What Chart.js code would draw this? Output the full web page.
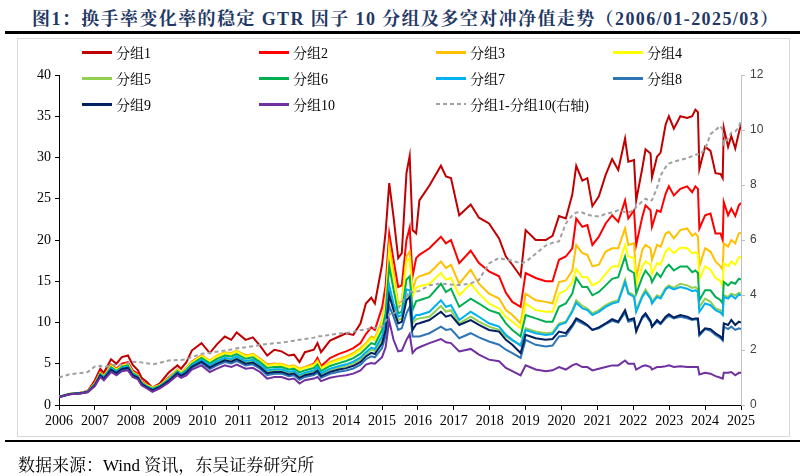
<!DOCTYPE html>
<html lang="zh-CN">
<head>
<meta charset="UTF-8"/>
<title>图1：换手率变化率的稳定 GTR 因子 10 分组及多空对冲净值走势</title>
<script src="https://cdn.jsdelivr.net/npm/chart.js@4"></script>
<style>
  * { box-sizing: border-box; margin: 0; padding: 0; }
  html, body { width: 805px; height: 476px; background: #fff; overflow: hidden; }
  body { position: relative; font-family: 'Liberation Serif', 'Noto Serif CJK SC', 'Noto Sans CJK SC', serif; color: #000; }
  .title { position: absolute; left: 32px; top: 4px; font-size: 18px; font-weight: 700; color: #1f3864; letter-spacing: 1.4px; white-space: nowrap; }
  .rule { position: absolute; left: 5px; right: 5px; background: #000; }
  .rule.top { top: 31px; height: 3px; }
  .rule.bottom { top: 440px; height: 2px; }
  .frame { position: absolute; left: 17px; top: 38px; width: 773px; height: 399px; border: 1px solid #d9d9d9; }
  canvas { position: absolute; left: 0; top: 0; }
  .legend { position: absolute; left: 82px; top: 39px; display: grid; grid-template-columns: repeat(4, 177px); grid-auto-rows: 26px; }
  .legend .item { display: flex; align-items: center; font-size: 14px; white-space: nowrap; }
  .legend .swatch { width: 30px; height: 3px; margin-right: 4px; }
  .source { position: absolute; left: 18px; top: 451px; font-size: 17px; white-space: nowrap; }
</style>
</head>
<body>

<div class="title">图1：换手率变化率的稳定 GTR 因子 10 分组及多空对冲净值走势（2006/01-2025/03）</div>
<div class="rule top"></div>
<div class="frame"></div>
<canvas id="chart" width="805" height="476"></canvas>
<div class="legend" id="legend"></div>
<div class="rule bottom"></div>
<div class="source">数据来源：Wind 资讯，东吴证券研究所</div>

<script>
// 时间（年份小数），与各组净值一一对应
const dates = [
  2006.0, 2006.3, 2006.6, 2006.8, 2007.0, 2007.15, 2007.25, 2007.45, 2007.6, 2007.75,
  2007.92, 2008.05, 2008.2, 2008.3, 2008.45, 2008.6, 2008.8, 2009.05, 2009.3, 2009.4,
  2009.55, 2009.7, 2009.97, 2010.2, 2010.4, 2010.62, 2010.8, 2010.95, 2011.2, 2011.4,
  2011.6, 2011.8, 2012.0, 2012.2, 2012.4, 2012.55, 2012.7, 2012.85, 2013.1, 2013.2,
  2013.3, 2013.55, 2013.8, 2014.0, 2014.2, 2014.4, 2014.55, 2014.7, 2014.8, 2015.0,
  2015.1, 2015.2, 2015.32, 2015.45, 2015.55, 2015.68, 2015.77, 2015.85, 2015.95, 2016.04,
  2016.32, 2016.64, 2016.78, 2016.92, 2017.15, 2017.47, 2017.7, 2017.98, 2018.26, 2018.45,
  2018.63, 2018.86, 2019.0, 2019.28, 2019.56, 2019.75, 2019.93, 2020.12, 2020.3, 2020.41,
  2020.58, 2020.72, 2020.86, 2021.04, 2021.23, 2021.41, 2021.58, 2021.77, 2021.86, 2022.02,
  2022.08, 2022.25, 2022.34, 2022.48, 2022.52, 2022.66, 2022.76, 2022.9, 2022.99, 2023.13,
  2023.31, 2023.5, 2023.64, 2023.73, 2023.8, 2023.84, 2024.0, 2024.15, 2024.29, 2024.43,
  2024.49, 2024.52, 2024.64, 2024.73, 2024.84, 2024.94, 2025.0
];

const group1 = [
  1.0, 1.3, 1.5, 1.65, 3.0, 4.4, 3.9, 5.55, 5.0, 5.8,
  6.0, 4.9, 4.2, 3.3, 2.8, 2.1, 2.6, 3.9, 4.8, 4.4,
  5.2, 6.6, 7.5, 6.3, 7.35, 8.3, 7.9, 8.8, 7.9, 8.2,
  7.2, 6.0, 6.7, 6.5, 6.0, 6.1, 5.2, 6.4, 6.7, 7.5,
  6.4, 7.8, 8.3, 8.7, 8.5, 9.9, 12.3, 13.0, 12.3, 17.0,
  21.0, 26.9, 22.8, 17.8, 18.4, 28.1, 30.2, 21.2, 20.8, 24.8,
  26.6, 29.0, 27.7, 27.5, 23.0, 24.3, 22.7, 22.0, 20.2, 18.0,
  17.0, 15.6, 21.2, 20.0, 20.0, 20.5, 22.9, 22.6, 25.5, 29.0,
  27.2, 27.5, 24.1, 25.3, 27.9, 29.8, 28.5, 32.3, 29.5, 29.7,
  24.8, 28.7, 31.0, 30.5, 27.6, 30.1, 30.6, 34.0, 35.0, 33.5,
  35.0, 34.8, 35.0, 35.8, 35.5, 28.6, 31.3, 30.8, 28.1, 28.0,
  27.5, 33.6, 31.3, 32.6, 31.1, 33.0, 34.0
];

const group2 = [
  1.0, 1.35, 1.5, 1.7, 2.8, 4.1, 3.5, 4.9, 4.4, 5.0,
  5.2, 4.2, 3.8, 2.9, 2.5, 2.1, 2.45, 3.3, 4.3, 3.9,
  4.5, 5.25, 6.0, 5.3, 5.9, 6.3, 6.2, 6.5, 6.0, 6.1,
  5.6, 4.9, 5.0, 4.9, 4.6, 4.7, 4.3, 4.6, 5.0, 5.7,
  4.7, 5.7, 6.2, 6.5, 6.9, 7.5, 8.6, 9.4, 9.1, 11.8,
  14.5, 20.8, 17.6, 14.3, 14.5, 20.0, 21.5, 15.6, 17.8, 18.2,
  19.0, 20.4, 19.6, 20.0, 17.2, 18.7, 17.2, 16.2, 15.6, 13.6,
  12.5, 11.9, 16.0, 15.4, 15.0, 15.0, 17.6, 18.0, 19.0, 22.6,
  21.6, 21.8, 19.4, 20.4, 22.0, 23.0, 22.2, 24.8, 22.6, 23.6,
  19.4, 22.8, 24.2, 23.6, 21.6, 23.6, 23.4, 25.6, 26.5, 25.4,
  26.2, 26.5, 25.8, 26.5, 26.2, 21.4, 23.0, 23.2, 20.8, 20.8,
  20.0, 24.6, 23.0, 23.8, 22.9, 24.2, 24.5
];

const group3 = [
  1.0, 1.35, 1.45, 1.65, 2.6, 3.9, 3.5, 4.8, 4.3, 4.8,
  5.0, 4.0, 3.6, 2.8, 2.4, 2.1, 2.4, 3.2, 4.3, 3.9,
  4.5, 5.2, 6.0, 5.4, 6.0, 6.4, 6.3, 6.6, 6.0, 6.2,
  5.6, 4.9, 5.0, 5.0, 4.7, 4.8, 4.4, 4.6, 4.9, 5.4,
  4.5, 5.2, 5.6, 5.9, 6.3, 6.9, 7.5, 8.3, 8.1, 10.2,
  12.5, 19.4, 16.0, 12.3, 12.6, 18.0, 18.6, 14.0, 15.3, 15.6,
  16.0, 17.4, 16.6, 17.0, 14.7, 16.4, 14.7, 13.5, 12.9, 11.5,
  10.9, 9.9, 13.5, 12.7, 12.5, 12.3, 14.9, 15.1, 16.3, 19.4,
  18.4, 18.2, 16.8, 17.0, 18.6, 19.0, 19.0, 21.4, 19.4, 19.6,
  15.4, 18.8, 19.4, 19.0, 17.6, 19.4, 19.2, 20.8, 21.0, 20.2,
  21.2, 21.4, 20.5, 20.8, 20.4, 16.8, 19.0, 18.6, 17.4, 16.8,
  16.4, 19.6, 19.2, 20.0, 19.6, 20.8, 20.9
];

const group4 = [
  1.0, 1.35, 1.45, 1.64, 2.58, 3.86, 3.46, 4.74, 4.24, 4.74,
  4.94, 3.95, 3.56, 2.77, 2.37, 2.06, 2.37, 3.16, 4.24, 3.85,
  4.43, 5.13, 5.9, 5.29, 5.87, 6.27, 6.16, 6.46, 5.87, 6.06,
  5.47, 4.76, 4.87, 4.87, 4.57, 4.67, 4.26, 4.47, 4.76, 5.24,
  4.37, 5.05, 5.43, 5.72, 6.1, 6.68, 7.29, 8.04, 7.85, 9.85,
  12.06, 18.5, 15.2, 11.9, 12.1, 17.4, 17.8, 13.2, 14.2, 14.4,
  14.7, 16.0, 15.2, 15.4, 13.3, 14.7, 13.5, 12.3, 11.7, 10.7,
  10.1, 9.3, 12.3, 11.5, 11.3, 11.3, 13.5, 13.9, 14.9, 16.5,
  15.5, 15.5, 14.5, 14.9, 15.9, 16.8, 16.8, 19.4, 18.0, 17.8,
  14.5, 16.8, 17.4, 17.0, 15.9, 17.2, 17.0, 18.6, 19.0, 18.4,
  19.1, 19.0, 18.4, 18.5, 18.3, 15.2, 16.8, 16.4, 15.4, 15.0,
  14.4, 17.2, 16.8, 17.4, 17.0, 17.9, 17.9
];

const group5 = [
  0.98, 1.33, 1.43, 1.6, 2.45, 3.65, 3.25, 4.4, 3.95, 4.45,
  4.6, 3.7, 3.35, 2.6, 2.2, 1.85, 2.2, 2.95, 3.95, 3.6,
  4.05, 4.75, 5.4, 4.7, 5.2, 5.6, 5.45, 5.75, 5.2, 5.35,
  4.8, 4.05, 4.2, 4.2, 3.9, 4.0, 3.5, 3.8, 4.05, 4.4,
  3.7, 4.25, 4.55, 4.75, 5.05, 5.55, 6.2, 6.7, 6.55, 8.0,
  9.75, 13.8, 11.9, 10.3, 10.5, 13.2, 13.3, 9.9, 10.4, 10.5,
  10.7, 12.0, 11.3, 11.5, 9.9, 10.7, 10.1, 9.5, 9.1, 8.3,
  7.8, 7.3, 9.3, 8.9, 8.7, 8.8, 9.9, 10.1, 11.5, 12.7,
  12.0, 11.7, 11.1, 11.5, 12.1, 12.5, 12.7, 15.2, 13.7, 13.3,
  11.5, 13.3, 14.0, 13.1, 12.5, 13.3, 13.1, 14.2, 14.5, 14.2,
  14.7, 14.5, 14.2, 14.3, 14.0, 11.9, 12.9, 12.5, 11.7, 11.5,
  11.1, 13.3, 13.1, 13.5, 13.3, 13.6, 13.5
];

const group6 = [
  1.0, 1.34, 1.44, 1.62, 2.52, 3.78, 3.38, 4.6, 4.12, 4.62,
  4.8, 3.85, 3.48, 2.7, 2.3, 1.98, 2.3, 3.08, 4.12, 3.75,
  4.28, 4.98, 5.7, 5.05, 5.6, 6.0, 5.88, 6.18, 5.6, 5.78,
  5.2, 4.48, 4.6, 4.6, 4.3, 4.4, 3.95, 4.2, 4.48, 4.9,
  4.1, 4.73, 5.08, 5.33, 5.68, 6.23, 6.85, 7.5, 7.33, 9.1,
  11.13, 16.9, 14.0, 11.1, 11.3, 15.2, 15.6, 11.5, 12.6, 12.7,
  13.1, 14.7, 13.7, 14.1, 11.9, 12.9, 12.3, 11.5, 11.1, 9.9,
  9.1, 8.3, 10.9, 10.5, 10.1, 10.1, 11.9, 12.3, 13.5, 15.4,
  14.3, 14.3, 13.3, 13.7, 14.5, 15.3, 15.5, 18.0, 16.4, 16.0,
  13.5, 15.5, 16.3, 15.5, 14.9, 16.0, 15.5, 16.6, 17.0, 16.3,
  16.8, 16.8, 16.1, 16.3, 16.0, 12.7, 13.9, 13.9, 13.1, 12.7,
  12.3, 14.9, 14.5, 14.9, 14.7, 15.3, 15.2
];

const group7 = [
  0.98, 1.33, 1.43, 1.61, 2.47, 3.69, 3.29, 4.46, 4.0, 4.5,
  4.66, 3.75, 3.39, 2.63, 2.23, 1.89, 2.23, 2.99, 4.0, 3.65,
  4.12, 4.82, 5.5, 4.81, 5.33, 5.73, 5.59, 5.89, 5.33, 5.49,
  4.93, 4.19, 4.33, 4.33, 4.03, 4.13, 3.64, 3.93, 4.19, 4.56,
  3.83, 4.4, 4.72, 4.93, 5.25, 5.77, 6.41, 6.96, 6.8, 8.35,
  10.2, 14.5, 12.3, 10.7, 10.9, 14.0, 13.9, 10.3, 10.9, 10.9,
  11.3, 12.7, 11.9, 12.1, 10.3, 11.3, 10.7, 9.9, 9.5, 8.5,
  7.9, 7.2, 9.1, 8.7, 8.5, 8.6, 9.7, 10.0, 11.3, 12.4,
  11.7, 11.5, 10.9, 11.3, 11.9, 12.3, 12.5, 14.9, 13.5, 13.1,
  11.3, 13.1, 13.7, 12.9, 12.3, 13.1, 12.9, 14.0, 14.3, 14.0,
  14.3, 14.1, 13.8, 13.9, 13.7, 11.3, 12.3, 12.1, 11.5, 11.2,
  10.9, 13.1, 12.9, 13.3, 12.9, 13.4, 13.3
];

const group8 = [
  0.97, 1.31, 1.41, 1.58, 2.38, 3.53, 3.13, 4.2, 3.78, 4.28,
  4.4, 3.55, 3.23, 2.5, 2.1, 1.73, 2.1, 2.83, 3.78, 3.45,
  3.83, 4.53, 5.1, 4.35, 4.8, 5.2, 5.03, 5.33, 4.8, 4.93,
  4.4, 3.63, 3.8, 3.8, 3.5, 3.6, 3.05, 3.4, 3.63, 3.9,
  3.3, 3.78, 4.03, 4.18, 4.43, 4.88, 5.55, 5.9, 5.78, 6.9,
  8.38, 12.0, 10.7, 9.1, 9.3, 11.1, 11.9, 8.3, 8.3, 8.3,
  8.7, 9.5, 9.1, 9.2, 8.1, 8.7, 8.2, 7.7, 7.3, 6.7,
  6.3, 5.7, 7.9, 7.3, 7.1, 7.2, 8.3, 8.4, 9.5, 10.3,
  9.9, 9.6, 9.1, 9.3, 9.8, 10.2, 10.0, 11.2, 10.1, 10.3,
  9.1, 10.5, 10.9, 10.0, 9.5, 10.1, 9.8, 10.5, 10.8, 10.5,
  10.7, 10.5, 10.3, 10.4, 10.3, 8.4, 9.2, 9.0, 8.5, 8.1,
  7.8, 9.5, 9.2, 9.5, 9.1, 9.3, 9.2
];

const group9 = [
  0.97, 1.32, 1.42, 1.59, 2.41, 3.59, 3.19, 4.3, 3.87, 4.37,
  4.5, 3.63, 3.29, 2.55, 2.15, 1.79, 2.15, 2.89, 3.87, 3.53,
  3.94, 4.64, 5.26, 4.53, 5.01, 5.41, 5.25, 5.55, 5.01, 5.15,
  4.61, 3.85, 4.01, 4.01, 3.71, 3.81, 3.28, 3.61, 3.85, 4.16,
  3.51, 4.02, 4.3, 4.47, 4.75, 5.23, 5.89, 6.32, 6.18, 7.47,
  9.09, 13.3, 11.5, 9.9, 10.1, 12.7, 13.1, 9.1, 9.8, 9.9,
  10.3, 11.3, 10.7, 10.9, 9.7, 10.3, 9.7, 9.1, 8.9, 7.9,
  7.3, 6.3, 8.5, 8.1, 7.9, 8.0, 8.9, 8.7, 9.7, 10.5,
  10.1, 9.7, 9.1, 9.4, 9.9, 10.4, 10.1, 11.5, 10.3, 10.5,
  8.9, 10.7, 11.1, 10.2, 9.5, 10.3, 9.9, 10.7, 11.0, 10.6,
  10.9, 10.7, 10.4, 10.5, 10.5, 8.6, 9.3, 9.2, 8.7, 8.3,
  8.0, 9.9, 9.7, 10.3, 9.7, 10.1, 10.0
];

const group10 = [
  0.95, 1.3, 1.4, 1.55, 2.3, 3.4, 3.0, 4.0, 3.6, 4.1,
  4.2, 3.4, 3.1, 2.4, 2.0, 1.6, 2.0, 2.7, 3.6, 3.3,
  3.6, 4.3, 4.8, 4.0, 4.4, 4.8, 4.6, 4.9, 4.4, 4.5,
  4.0, 3.2, 3.4, 3.4, 3.1, 3.2, 2.6, 3.0, 3.2, 3.4,
  2.9, 3.3, 3.5, 3.6, 3.8, 4.2, 4.9, 5.1, 5.0, 5.8,
  7.0, 10.2, 7.9, 6.5, 6.6, 7.9, 8.6, 6.3, 6.8, 7.0,
  7.5, 8.0, 7.6, 7.5, 6.5, 6.8, 6.1, 5.5, 5.3, 4.5,
  4.1, 3.6, 4.8, 4.3, 4.1, 4.2, 4.6, 4.3, 4.8, 5.0,
  4.6, 4.6, 4.2, 4.4, 4.6, 4.8, 4.8, 5.4, 5.0, 5.0,
  4.3, 4.7, 4.8, 4.6, 4.3, 4.6, 4.6, 4.7, 4.8, 4.6,
  4.7, 4.6, 4.6, 4.6, 4.6, 3.7, 3.9, 3.8, 3.5, 3.3,
  3.2, 3.9, 3.9, 4.0, 3.6, 3.9, 3.9
];

// 分组1-分组10 多空对冲净值（右轴）
const longShort = [
  1.0, 1.12, 1.16, 1.2, 1.4, 1.43, 1.37, 1.45, 1.46, 1.46,
  1.52, 1.57, 1.56, 1.55, 1.52, 1.48, 1.53, 1.62, 1.64, 1.64,
  1.66, 1.74, 1.86, 1.9, 1.94, 1.98, 2.02, 2.06, 2.1, 2.14,
  2.18, 2.22, 2.25, 2.27, 2.3, 2.34, 2.37, 2.4, 2.45, 2.5,
  2.5, 2.55, 2.6, 2.62, 2.66, 2.72, 2.75, 2.8, 2.8, 2.85,
  3.05, 3.3, 3.3, 3.5, 3.75, 3.95, 4.15, 4.1, 4.12, 4.15,
  4.35, 4.42, 4.4, 4.38, 4.36, 4.42, 4.55, 5.15, 5.35, 5.28,
  5.25, 5.15, 5.2, 5.5, 5.8, 5.9, 5.95, 6.6, 6.9, 7.0,
  7.0, 6.92, 6.88, 6.85, 6.95, 7.0, 7.08, 7.02, 7.0, 7.08,
  7.2, 7.4, 7.5, 7.42, 7.45, 7.9, 8.35, 8.65, 8.78, 8.85,
  8.91, 8.98, 9.05, 9.1, 9.12, 9.1, 9.3, 9.85, 10.0, 10.15,
  10.0, 9.5, 9.7, 9.9, 9.95, 10.1, 10.35
];

const yearTicks = [2006, 2007, 2008, 2009, 2010, 2011, 2012, 2013, 2014, 2015,
                   2016, 2017, 2018, 2019, 2020, 2021, 2022, 2023, 2024, 2025];
const leftTicks  = [0, 5, 10, 15, 20, 25, 30, 35, 40];
const rightTicks = [0, 2, 4, 6, 8, 10, 12];

const seriesNames  = ['分组1', '分组2', '分组3', '分组4', '分组5', '分组6', '分组7', '分组8', '分组9', '分组10', '分组1-分组10(右轴)'];
const seriesColors = ['#c00000', '#ff0000', '#ffc000', '#ffff00', '#92d050', '#00b050', '#00b0f0', '#2e75b6', '#002060', '#7030a0', '#a0a0a0'];
const seriesValues = [group1, group2, group3, group4, group5, group6, group7, group8, group9, group10, longShort];

const W = 805, H = 476;
const plotLeft = 59, plotRight = 741, plotTop = 75, plotBottom = 405;

const serif = "'Liberation Serif', 'Noto Serif CJK SC', 'Noto Sans CJK SC', serif";

const datasets = seriesValues.map((vals, i) => {
  const isLS = i === seriesValues.length - 1;
  return {
    label: seriesNames[i],
    data: vals,
    borderColor: seriesColors[i],
    backgroundColor: seriesColors[i],
    borderWidth: 2,
    borderDash: isLS ? [4, 3] : [],
    pointRadius: 0,
    tension: 0,
    fill: false,
    yAxisID: isLS ? 'y1' : 'y',
    order: seriesValues.length - 1 - i   // later series drawn on top, as in Excel
  };
});

// HTML legend, 4 columns
const legendEl = document.getElementById('legend');
seriesNames.forEach((name, i) => {
  const isLS = i === seriesNames.length - 1;
  const item = document.createElement('div');
  item.className = 'item';
  const sw = document.createElement('span');
  sw.className = 'swatch';
  sw.style.background = isLS
    ? `repeating-linear-gradient(90deg, ${seriesColors[i]} 0 4px, transparent 4px 7px)`
    : seriesColors[i];
  if (isLS) sw.style.height = '2px';
  const tx = document.createElement('span');
  tx.textContent = name;
  item.appendChild(sw);
  item.appendChild(tx);
  legendEl.appendChild(item);
});

Chart.defaults.font.family = serif;
Chart.defaults.color = '#000';

new Chart(document.getElementById('chart'), {
  type: 'line',
  data: { labels: dates, datasets },
  options: {
    responsive: false,
    animation: false,
    layout: { padding: { top: plotTop, left: 0, right: 0, bottom: 0 } },
    plugins: { legend: { display: false }, tooltip: { enabled: false } },
    scales: {
      x: {
        type: 'linear',
        min: yearTicks[0],
        max: yearTicks[yearTicks.length - 1],
        afterBuildTicks: axis => { axis.ticks = yearTicks.map(v => ({ value: v })); },
        afterFit: s => { s.height = H - plotBottom; },
        ticks: { autoSkip: false, maxRotation: 0, padding: 3, font: { size: 14 }, color: '#000',
                 callback: v => String(v) },
        grid: { drawOnChartArea: false, drawTicks: true, tickLength: 5, color: '#000' },
        border: { display: true, color: '#000', width: 1 }
      },
      y: {
        position: 'left',
        min: leftTicks[0],
        max: leftTicks[leftTicks.length - 1],
        afterBuildTicks: axis => { axis.ticks = leftTicks.map(v => ({ value: v })); },
        afterFit: s => { s.width = plotLeft; },
        ticks: { padding: 4, font: { size: 14 }, color: '#000' },
        grid: { drawOnChartArea: false, drawTicks: true, tickLength: 4, color: '#000' },
        border: { display: true, color: '#000', width: 1 }
      },
      y1: {
        position: 'right',
        min: rightTicks[0],
        max: rightTicks[rightTicks.length - 1],
        afterBuildTicks: axis => { axis.ticks = rightTicks.map(v => ({ value: v })); },
        afterFit: s => { s.width = W - plotRight; },
        ticks: { padding: 5, font: { size: 12, family: "'Liberation Sans', 'Noto Sans', sans-serif" }, color: '#404040' },
        grid: { drawOnChartArea: false, drawTicks: true, tickLength: 4, color: '#bfbfbf' },
        border: { display: true, color: '#bfbfbf', width: 1 }
      }
    }
  }
});
</script>

</body>
</html>
